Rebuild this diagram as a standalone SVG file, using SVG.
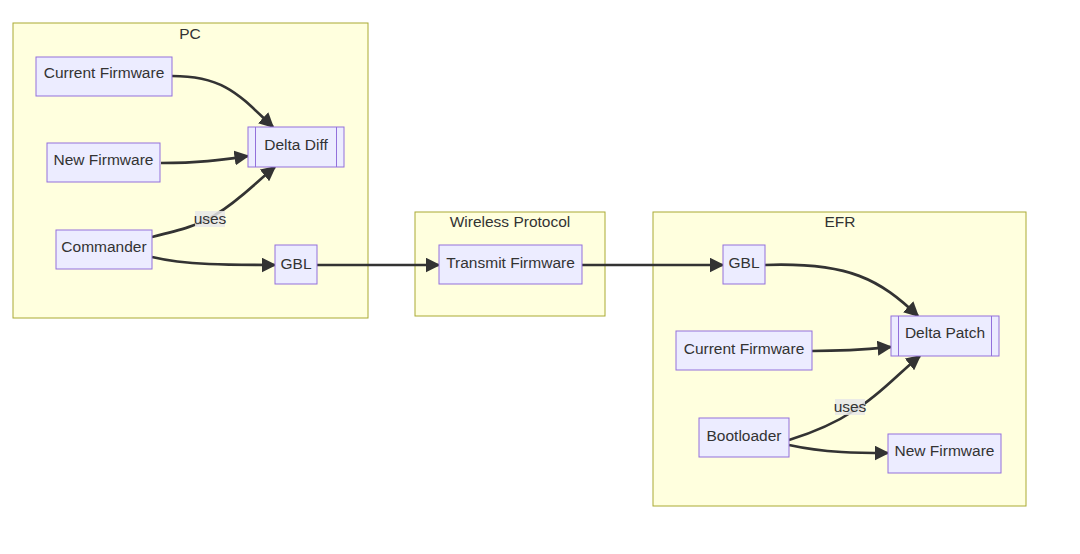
<svg xmlns="http://www.w3.org/2000/svg" width="1080" height="554" viewBox="0 0 1080 554">
<style>
.cluster{fill:#ffffde;stroke:#aaaa33;stroke-width:1}
.node{fill:#ececff;stroke:#9370db;stroke-width:1}
.t{font-family:"Liberation Sans",Arial,sans-serif;font-size:15.5px;fill:#333;text-anchor:middle;dominant-baseline:central}
.edge{fill:none;stroke:#333;stroke-width:2.7}
.lbl{fill:#e8e8e8;opacity:0.85}
</style>
<defs>
<marker id="arr" markerUnits="userSpaceOnUse" markerWidth="15" markerHeight="15" viewBox="0 0 10 10" refX="9" refY="5" orient="auto">
<path d="M0,0 L10,5 L0,10 z" fill="#333"/>
</marker>
</defs>
<rect width="1080" height="554" fill="#fff"/>
<g id="cluster-PC"><rect class="cluster" x="13" y="23" width="355" height="295"/><text class="t" x="190" y="33">PC</text></g>
<g id="cluster-Wireless"><rect class="cluster" x="415" y="212" width="190" height="104"/><text class="t" x="510" y="221">Wireless Protocol</text></g>
<g id="cluster-EFR"><rect class="cluster" x="653" y="212" width="373" height="294"/><text class="t" x="840" y="221">EFR</text></g>
<g id="edges">
<path class="edge" marker-end="url(#arr)" d="M172,76 C225,76 240,96 273,127"/>
<path class="edge" marker-end="url(#arr)" d="M161,163 C200,163 220,160 248,156"/>
<path class="edge" marker-end="url(#arr)" d="M152,237 C180,230 200,225 215,215 C240,200 255,183 275,167"/>
<path class="edge" marker-end="url(#arr)" d="M152,257 C185,265 230,265 275,265"/>
<path class="edge" marker-end="url(#arr)" d="M317,265 L439,265"/>
<path class="edge" marker-end="url(#arr)" d="M582,265 L723,265"/>
<path class="edge" marker-end="url(#arr)" d="M765,265 C850,262 880,280 918,316"/>
<path class="edge" marker-end="url(#arr)" d="M812,351 C850,351 870,349 891,347"/>
<path class="edge" marker-end="url(#arr)" d="M789,440 C815,432 840,420 855,410 C880,395 900,372 920,356"/>
<path class="edge" marker-end="url(#arr)" d="M789,445 C825,453 860,453 888,453"/>
<g id="edge-label-1"><rect class="lbl" x="195" y="211" width="30" height="16"/><text class="t" x="210" y="218">uses</text></g>
<g id="edge-label-2"><rect class="lbl" x="835" y="399" width="30" height="16"/><text class="t" x="850" y="406">uses</text></g>
</g>
<g id="pc-current-fw"><rect class="node" x="36" y="57" width="136" height="39"/><text class="t" x="104" y="72.5">Current Firmware</text></g>
<g id="pc-new-fw"><rect class="node" x="47" y="143" width="113" height="39"/><text class="t" x="103.5" y="159.5">New Firmware</text></g>
<g id="delta-diff"><rect class="node" x="248" y="127" width="96" height="40"/><line x1="255.5" y1="127" x2="255.5" y2="167" stroke="#9370db"/><line x1="336.5" y1="127" x2="336.5" y2="167" stroke="#9370db"/><text class="t" x="296" y="144.5">Delta Diff</text></g>
<g id="commander"><rect class="node" x="56" y="230" width="96" height="39"/><text class="t" x="104" y="246">Commander</text></g>
<g id="pc-gbl"><rect class="node" x="275" y="245" width="42" height="39"/><text class="t" x="296" y="263.5">GBL</text></g>
<g id="transmit"><rect class="node" x="439" y="245" width="143" height="39"/><text class="t" x="510.5" y="262.5">Transmit Firmware</text></g>
<g id="efr-gbl"><rect class="node" x="723" y="245" width="42" height="39"/><text class="t" x="744" y="262.5">GBL</text></g>
<g id="delta-patch"><rect class="node" x="891" y="316" width="108" height="40"/><line x1="898.5" y1="316" x2="898.5" y2="356" stroke="#9370db"/><line x1="991.5" y1="316" x2="991.5" y2="356" stroke="#9370db"/><text class="t" x="945" y="332.5">Delta Patch</text></g>
<g id="efr-current-fw"><rect class="node" x="676" y="331" width="136" height="39"/><text class="t" x="744" y="348.5">Current Firmware</text></g>
<g id="bootloader"><rect class="node" x="699" y="418" width="90" height="39"/><text class="t" x="744" y="435">Bootloader</text></g>
<g id="efr-new-fw"><rect class="node" x="888" y="434" width="113" height="39"/><text class="t" x="944.5" y="450.5">New Firmware</text></g>
</svg>
